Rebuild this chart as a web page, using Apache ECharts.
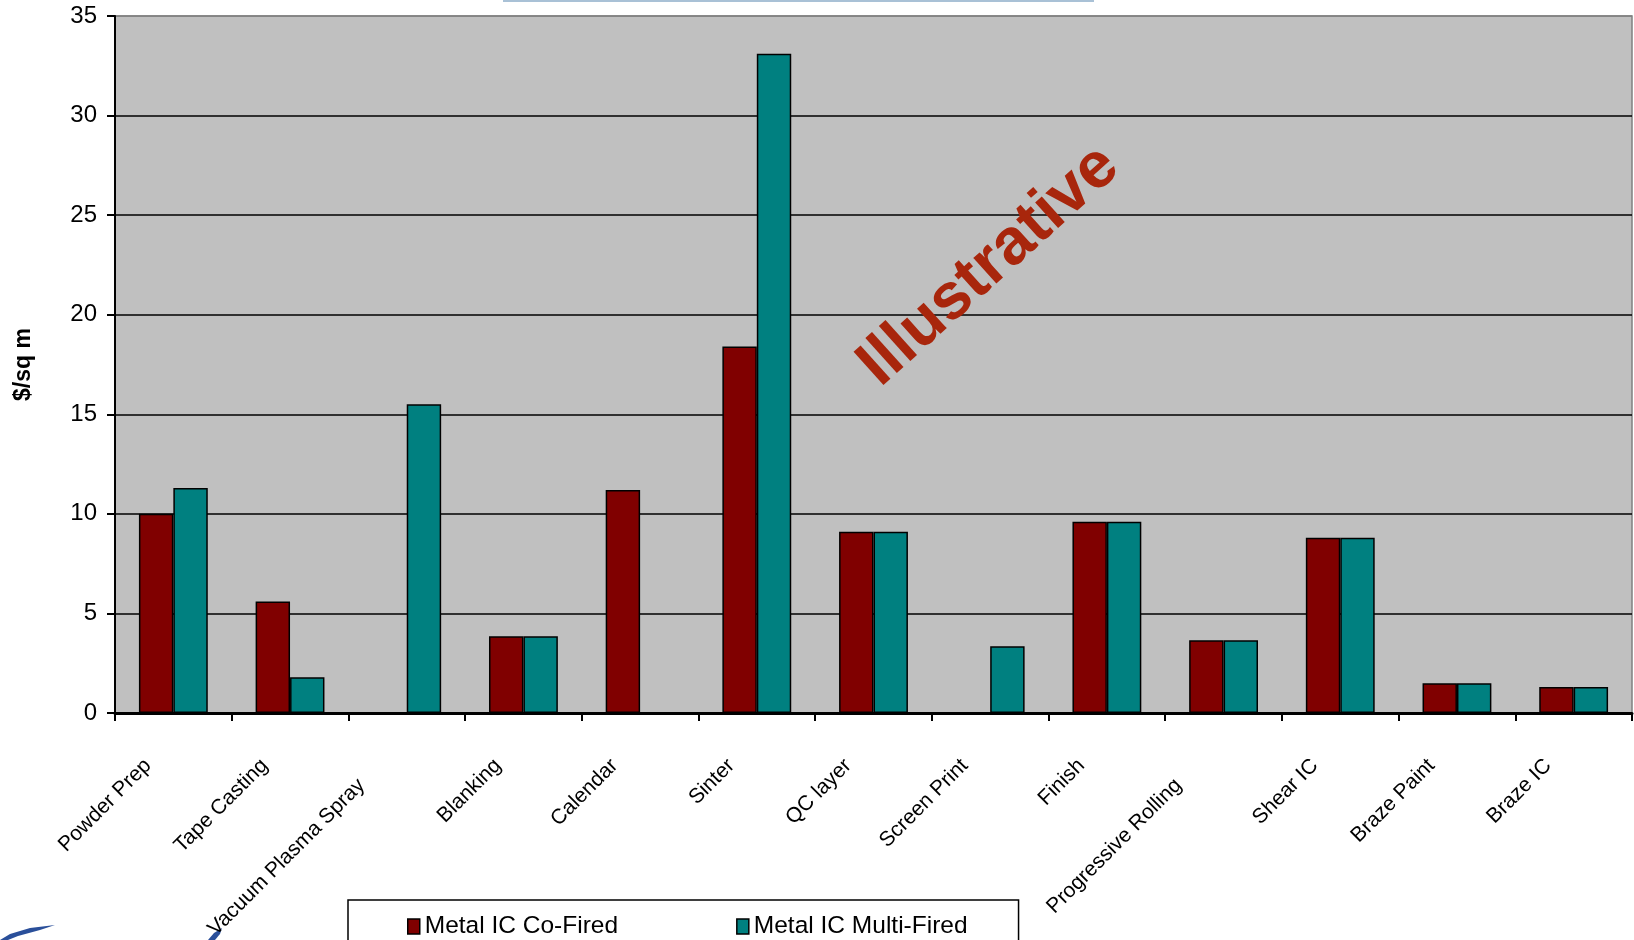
<!DOCTYPE html>
<html>
<head>
<meta charset="utf-8">
<script src="https://cdn.jsdelivr.net/npm/echarts@6/dist/echarts.min.js"></script>
<style>
html,body{margin:0;padding:0;background:#fff;}
#chart{width:1634px;height:940px;}
</style>
</head>
<body>
<div id="chart"></div>
<script>
const categories = ["Powder Prep","Tape Casting","Vacuum Plasma Spray","Blanking","Calendar","Sinter","QC layer","Screen Print","Finish","Progressive Rolling","Shear IC","Braze Paint","Braze IC"];
const coFired = [10.0, 5.6, null, 3.85, 11.2, 18.4, 9.1, null, 9.6, 3.65, 8.8, 1.5, 1.3];
const multiFired = [11.3, 1.8, 15.5, 3.85, null, 33.1, 9.1, 3.35, 9.6, 3.65, 8.8, 1.5, 1.3];
const seriesNames = ["Metal IC Co-Fired", "Metal IC Multi-Fired"];
const yTicks = { min: 0, max: 35, interval: 5 };
const yAxisTitle = "$/sq m";
const watermark = "Illustrative";

const FONT = "'Liberation Sans', Arial, sans-serif";
const labelStyle = { fontFamily: FONT, fontSize: 21, color: '#000' };
const chart = echarts.init(document.getElementById('chart'));
chart.setOption({
  animation: false,
  backgroundColor: '#ffffff',
  grid: {
    left: 115, right: 2, top: 16, bottom: 227,
    outerBoundsMode: 'none', containLabel: false,
    show: true, backgroundColor: '#C0C0C0', borderColor: '#808080', borderWidth: 1.5
  },
  legend: {
    left: 348, top: 900,
    padding: [14, 51, 20, 59],
    itemGap: 118,
    itemWidth: 12, itemHeight: 15,
    borderColor: '#000', borderWidth: 1.5,
    icon: 'rect',
    textStyle: { fontFamily: FONT, fontSize: 24.5, color: '#000' },
    itemStyle: { borderColor: '#000', borderWidth: 1.5 },
    data: seriesNames
  },
  xAxis: {
    type: 'category',
    data: categories,
    axisLine: { lineStyle: { color: '#000', width: 3 } },
    axisTick: { show: true, length: 8, lineStyle: { color: '#000', width: 2 } },
    axisLabel: {
      interval: 0, rotate: 45, margin: 24,
      fontFamily: FONT, fontSize: 21, color: '#000',
      formatter: function (v) { return (v.length > 15 ? '{l|' : '{n|') + v + '}'; },
      rich: {
        n: Object.assign({ padding: [0, 36, 0, 0] }, labelStyle),
        l: Object.assign({ padding: [0, 64, 0, 0] }, labelStyle)
      }
    },
    splitLine: { show: false }
  },
  yAxis: {
    type: 'value',
    min: yTicks.min, max: yTicks.max, interval: yTicks.interval,
    name: yAxisTitle, nameLocation: 'middle', nameGap: 80, nameRotate: 90,
    nameTextStyle: { fontFamily: FONT, fontSize: 23, fontWeight: 'bold', color: '#000' },
    axisLine: { show: true, lineStyle: { color: '#000', width: 2 } },
    axisTick: { show: true, length: 8, lineStyle: { color: '#000', width: 2 } },
    axisLabel: { margin: 18, fontFamily: FONT, fontSize: 24, color: '#000' },
    splitLine: { show: true, lineStyle: { color: ['#000','#000','#000','#000','#000','#000','#000','#808080'], width: 1.5 } }
  },
  series: [
    {
      name: seriesNames[0], type: 'bar', data: coFired,
      barGap: '0%', barCategoryGap: '41%',
      itemStyle: { color: '#800000', borderColor: '#000', borderWidth: 1.5 }
    },
    {
      name: seriesNames[1], type: 'bar', data: multiFired,
      barGap: '0%', barCategoryGap: '41%',
      itemStyle: { color: '#008080', borderColor: '#000', borderWidth: 1.5 }
    }
  ],
  graphic: [
    {
      type: 'text', x: 989, y: 266, rotation: 42 * Math.PI / 180, z: 100,
      style: {
        text: watermark, fontFamily: FONT, fontSize: 65, fontWeight: 'bold',
        fill: '#A8260C', align: 'center', verticalAlign: 'middle'
      }
    },
    { type: 'rect', shape: { x: 503, y: 0, width: 591, height: 2 }, style: { fill: '#A9C1D6' } },
    { type: 'polygon', shape: { points: [[0,940],[10,934],[30,928],[55,925],[40,930],[18,936],[8,940]] }, style: { fill: '#2A4F9A' } },
    { type: 'polygon', shape: { points: [[208,940],[214,933],[222,928],[220,934],[215,940]] }, style: { fill: '#2A4F9A' } }
  ]
});
</script>
</body>
</html>
